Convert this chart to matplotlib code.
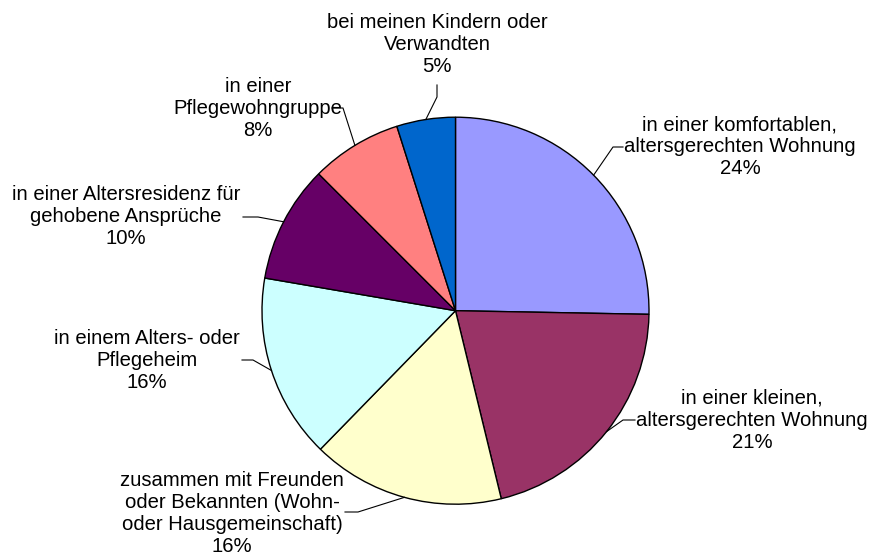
import numpy as np
import matplotlib
matplotlib.use("Agg")
import matplotlib.pyplot as plt

plt.rcParams['font.family'] = ['Liberation Sans', 'DejaVu Sans']

shares = [25.3, 20.9, 16.1, 15.4, 9.8, 7.6, 4.9]
pct_labels = ["24%", "21%", "16%", "16%", "10%", "8%", "5%"]
names = [
    "in einer komfortablen,\naltersgerechten Wohnung",
    "in einer kleinen,\naltersgerechten Wohnung",
    "zusammen mit Freunden\noder Bekannten (Wohn-\noder Hausgemeinschaft)",
    "in einem Alters- oder\nPflegeheim",
    "in einer Altersresidenz für\ngehobene Ansprüche",
    "in einer\nPflegewohngruppe",
    "bei meinen Kindern oder\nVerwandten",
]
colors = ["#9999FF", "#993366", "#FFFFCC", "#CCFFFF", "#660066", "#FF8080", "#0066CC"]

W, H = 869, 559
cx, cy, r = 455.5, H - 310.7, 193.5

# label block centres and leader elbow / end points (pixel coords, y down)
text_pos = [(740, 147), (752, 420), (232, 514), (147, 361), (126, 217), (258, 109), (437, 45)]
elbows = [
    [(613, 147), (623, 147)],
    [(623, 420), (635, 420)],
    [(358, 512), (345, 512)],
    [(253, 360), (242, 360)],
    [(258, 217), (243, 217)],
    [(343, 108), (332, 108)],
    [(437, 97), (437, 85)],
]

fig = plt.figure(figsize=(W / 100, H / 100), dpi=100)
ax = fig.add_axes([0, 0, 1, 1])

wedges, _ = ax.pie(shares, colors=colors, startangle=90, counterclock=False,
                   center=(cx, cy), radius=r,
                   wedgeprops=dict(edgecolor='black', linewidth=1.0))

for w, name, pct, (tx, ty), pts in zip(wedges, names, pct_labels, text_pos, elbows):
    mid = np.deg2rad((w.theta1 + w.theta2) / 2)
    xs = [cx + r * np.cos(mid)] + [p[0] for p in pts]
    ys = [cy + r * np.sin(mid)] + [H - p[1] for p in pts]
    ax.plot(xs, ys, color='black', linewidth=0.8)
    ax.text(tx, H - ty, name + "\n" + pct, ha='center', va='center',
            multialignment='center', fontsize=14.6, linespacing=1.2)

ax.set_xlim(0, W)
ax.set_ylim(0, H)
ax.set_aspect('equal')
ax.axis('off')

fig.savefig("out.png", dpi=100, facecolor='white')
